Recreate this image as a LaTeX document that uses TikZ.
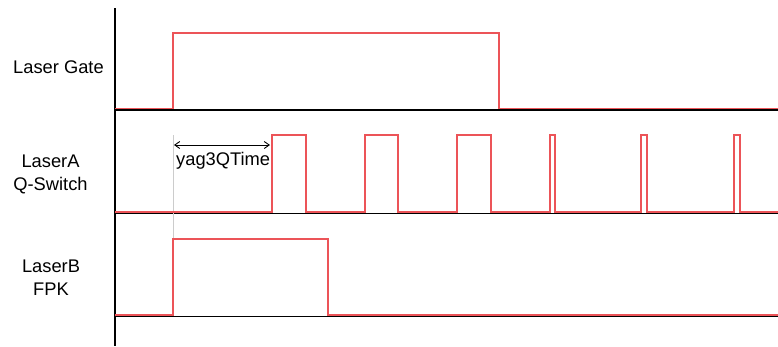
\documentclass[tikz,border=0pt]{standalone}
\usepackage{fontspec}
\setmainfont{Liberation Sans}
\usetikzlibrary{%
  arrows.meta
}
\definecolor{sigred}{RGB}{236,84,88}
\tikzset{>={Straight Barb[length=5pt,width=7pt]}}
\tikzset{
  sig/.style={sigred, line width=1.6pt},
  base/.style={black, line width=1.3pt},
  lbl/.style={align=center, font=\fontsize{18.3}{23}\selectfont}
}

\begin{document}
\begin{tikzpicture}[x=1pt,y=-1pt]

  \useasboundingbox (0,0) rectangle (778,346);

  % axis and base lines
  \draw[base] (115,8) -- (115,346);
  \draw[base] (115,110) -- (778,110);
  \draw[base] (115,213.5) -- (778,213.5);
  \draw[base] (115,316.5) -- (778,316.5);

  % start marker
  \draw[black!20, line width=1pt] (173,135) -- (173,240);

  % Laser Gate
  \draw[sig] (115,108.5) -- (173,108.5) -- (173,33) -- (499,33) -- (499,108.5) -- (778,108.5);

  % LaserA Q-Switch
  \draw[sig] (115,212) -- (272,212) -- (272,135) -- (306,135) -- (306,212)
    -- (365,212) -- (365,135) -- (398,135) -- (398,212)
    -- (457,212) -- (457,135) -- (491,135) -- (491,212)
    -- (550,212) -- (550,135) -- (555,135) -- (555,212)
    -- (641,212) -- (641,135) -- (647,135) -- (647,212)
    -- (734,212) -- (734,135) -- (740,135) -- (740,212) -- (778,212);

  % LaserB FPK
  \draw[sig] (115,315) -- (173,315) -- (173,239) -- (328,239) -- (328,315) -- (778,315);

  \draw[thin,<->, line width=0.9pt] (174,145) -- (270,145);
  \node[lbl, anchor=west, inner sep=2pt] (qtime) at (174,161) {yag3QTime};

  \node[lbl] (gate) at (58.5,67.5) {Laser Gate};
  \node[lbl] (qsw) at (50.5,174.5) {LaserA\\Q-Switch};
  \node[lbl] (fpk) at (51,278) {LaserB\\FPK};

\end{tikzpicture}
\end{document}
